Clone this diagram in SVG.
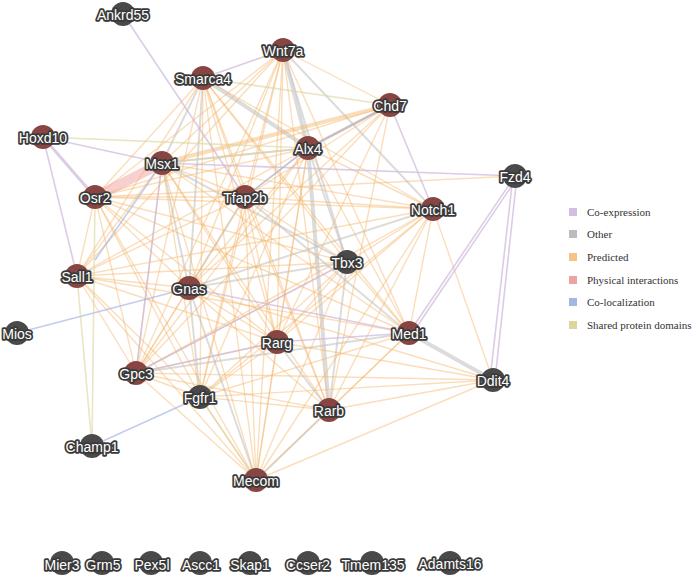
<svg xmlns="http://www.w3.org/2000/svg" width="697" height="582" viewBox="0 0 697 582">
<style>
.pr{stroke:#f5b56a;stroke-opacity:.45;stroke-width:1.4;fill:none}
.ot{stroke:#c4c4c4;stroke-opacity:.6;stroke-width:2;fill:none}
.otw{stroke:#c4c4c4;stroke-opacity:.6;stroke-width:4;fill:none}
.co{stroke:#cdb6dc;stroke-opacity:.7;stroke-width:1.6;fill:none}
.ph{stroke:#f0a8a8;stroke-opacity:.55;stroke-width:10;fill:none}
.cl{stroke:#a8b8e6;stroke-opacity:.7;stroke-width:1.6;fill:none}
.sd{stroke:#dcd39c;stroke-opacity:.6;stroke-width:1.6;fill:none}
.r{fill:url(#hr)}
.g{fill:url(#hg)}
.lb{font-family:"Liberation Sans",Arial,sans-serif;font-size:14px;fill:#fff;stroke:#3a3a3a;stroke-width:3.6;paint-order:stroke;stroke-linejoin:round;text-anchor:middle;dominant-baseline:central}
.lg{font-family:"Liberation Serif","Times New Roman",serif;font-size:11px;fill:#333;dominant-baseline:central}
</style>
<defs>
<pattern id="hr" width="3" height="3" patternUnits="userSpaceOnUse" patternTransform="rotate(45)">
<rect width="3" height="3" fill="#8b4744"/><line x1="0" y1="0" x2="0" y2="3" stroke="#7a3c3a" stroke-width="1"/>
</pattern>
<pattern id="hg" width="3" height="3" patternUnits="userSpaceOnUse" patternTransform="rotate(45)">
<rect width="3" height="3" fill="#4c4c4c"/><line x1="0" y1="0" x2="0" y2="3" stroke="#3d3d3d" stroke-width="1"/>
</pattern>
</defs>
<rect width="697" height="582" fill="#fff"/>
<g id="connectors">
<line class="ph" x1="95" y1="197" x2="162" y2="163"/>
<line class="otw" x1="283" y1="50" x2="308" y2="148"/>
<line class="otw" x1="203" y1="78" x2="308" y2="148"/>
<line class="ot" x1="283" y1="50" x2="347" y2="262"/>
<line class="ot" x1="283" y1="50" x2="433" y2="209"/>
<line class="ot" x1="203" y1="78" x2="162" y2="163"/>
<line class="ot" x1="203" y1="78" x2="189" y2="288"/>
<line class="ot" x1="308" y1="148" x2="347" y2="262"/>
<line class="otw" x1="308" y1="148" x2="329" y2="410"/>
<line class="ot" x1="162" y1="163" x2="308" y2="148"/>
<line class="ot" x1="162" y1="163" x2="347" y2="262"/>
<line class="ot" x1="245" y1="197" x2="409" y2="333"/>
<line class="ot" x1="245" y1="197" x2="189" y2="288"/>
<line class="ot" x1="189" y1="288" x2="433" y2="209"/>
<line class="ot" x1="189" y1="288" x2="347" y2="262"/>
<line class="ot" x1="189" y1="288" x2="200" y2="397"/>
<line class="ot" x1="189" y1="288" x2="256" y2="480"/>
<line class="ot" x1="277" y1="342" x2="329" y2="410"/>
<line class="ot" x1="347" y1="262" x2="329" y2="410"/>
<line class="otw" x1="409" y1="333" x2="493" y2="380"/>
<line class="ot" x1="329" y1="410" x2="256" y2="480"/>
<line class="ot" x1="390" y1="105" x2="308" y2="148"/>
<line class="ot" x1="162" y1="163" x2="189" y2="288"/>
<line class="ot" x1="136" y1="373" x2="409" y2="333"/>
<line class="pr" x1="283" y1="50" x2="162" y2="163"/>
<line class="pr" x1="283" y1="50" x2="245" y2="197"/>
<line class="pr" x1="283" y1="50" x2="189" y2="288"/>
<line class="pr" x1="283" y1="50" x2="136" y2="373"/>
<line class="pr" x1="283" y1="50" x2="277" y2="342"/>
<line class="pr" x1="283" y1="50" x2="329" y2="410"/>
<line class="pr" x1="283" y1="50" x2="256" y2="480"/>
<line class="pr" x1="283" y1="50" x2="409" y2="333"/>
<line class="pr" x1="283" y1="50" x2="95" y2="197"/>
<line class="pr" x1="283" y1="50" x2="77" y2="276"/>
<line class="pr" x1="283" y1="50" x2="200" y2="397"/>
<line class="pr" x1="283" y1="50" x2="390" y2="105"/>
<line class="pr" x1="203" y1="78" x2="245" y2="197"/>
<line class="pr" x1="203" y1="78" x2="136" y2="373"/>
<line class="pr" x1="203" y1="78" x2="277" y2="342"/>
<line class="pr" x1="203" y1="78" x2="329" y2="410"/>
<line class="pr" x1="203" y1="78" x2="256" y2="480"/>
<line class="pr" x1="203" y1="78" x2="409" y2="333"/>
<line class="pr" x1="203" y1="78" x2="433" y2="209"/>
<line class="pr" x1="203" y1="78" x2="347" y2="262"/>
<line class="pr" x1="203" y1="78" x2="200" y2="397"/>
<line class="pr" x1="203" y1="78" x2="77" y2="276"/>
<line class="pr" x1="203" y1="78" x2="95" y2="197"/>
<line class="pr" x1="162" y1="163" x2="390" y2="105" style="stroke-width:4"/>
<line class="pr" x1="162" y1="163" x2="433" y2="209"/>
<line class="pr" x1="162" y1="163" x2="245" y2="197"/>
<line class="pr" x1="162" y1="163" x2="77" y2="276"/>
<line class="pr" x1="162" y1="163" x2="136" y2="373"/>
<line class="pr" x1="162" y1="163" x2="277" y2="342"/>
<line class="pr" x1="162" y1="163" x2="329" y2="410"/>
<line class="pr" x1="162" y1="163" x2="256" y2="480"/>
<line class="pr" x1="162" y1="163" x2="409" y2="333"/>
<line class="pr" x1="162" y1="163" x2="200" y2="397"/>
<line class="pr" x1="308" y1="148" x2="390" y2="105" style="stroke-width:3"/>
<line class="pr" x1="308" y1="148" x2="245" y2="197"/>
<line class="pr" x1="308" y1="148" x2="189" y2="288"/>
<line class="pr" x1="308" y1="148" x2="95" y2="197"/>
<line class="pr" x1="308" y1="148" x2="77" y2="276"/>
<line class="pr" x1="308" y1="148" x2="136" y2="373"/>
<line class="pr" x1="308" y1="148" x2="277" y2="342"/>
<line class="pr" x1="308" y1="148" x2="256" y2="480"/>
<line class="pr" x1="308" y1="148" x2="409" y2="333"/>
<line class="pr" x1="308" y1="148" x2="433" y2="209"/>
<line class="pr" x1="308" y1="148" x2="200" y2="397"/>
<line class="pr" x1="390" y1="105" x2="245" y2="197"/>
<line class="pr" x1="390" y1="105" x2="95" y2="197"/>
<line class="pr" x1="390" y1="105" x2="189" y2="288"/>
<line class="pr" x1="390" y1="105" x2="277" y2="342"/>
<line class="pr" x1="390" y1="105" x2="136" y2="373"/>
<line class="pr" x1="390" y1="105" x2="329" y2="410"/>
<line class="pr" x1="95" y1="197" x2="77" y2="276"/>
<line class="pr" x1="95" y1="197" x2="189" y2="288"/>
<line class="pr" x1="95" y1="197" x2="136" y2="373"/>
<line class="pr" x1="95" y1="197" x2="245" y2="197"/>
<line class="pr" x1="95" y1="197" x2="277" y2="342"/>
<line class="pr" x1="95" y1="197" x2="409" y2="333"/>
<line class="pr" x1="95" y1="197" x2="433" y2="209"/>
<line class="pr" x1="95" y1="197" x2="347" y2="262"/>
<line class="pr" x1="95" y1="197" x2="200" y2="397"/>
<line class="pr" x1="95" y1="197" x2="256" y2="480"/>
<line class="pr" x1="95" y1="197" x2="515" y2="176"/>
<line class="pr" x1="245" y1="197" x2="136" y2="373"/>
<line class="pr" x1="245" y1="197" x2="77" y2="276"/>
<line class="pr" x1="245" y1="197" x2="277" y2="342"/>
<line class="pr" x1="245" y1="197" x2="329" y2="410"/>
<line class="pr" x1="245" y1="197" x2="433" y2="209"/>
<line class="pr" x1="245" y1="197" x2="347" y2="262"/>
<line class="pr" x1="245" y1="197" x2="256" y2="480"/>
<line class="pr" x1="245" y1="197" x2="200" y2="397"/>
<line class="pr" x1="433" y1="209" x2="347" y2="262"/>
<line class="pr" x1="433" y1="209" x2="277" y2="342"/>
<line class="pr" x1="433" y1="209" x2="409" y2="333"/>
<line class="pr" x1="433" y1="209" x2="493" y2="380"/>
<line class="pr" x1="433" y1="209" x2="136" y2="373"/>
<line class="pr" x1="433" y1="209" x2="77" y2="276"/>
<line class="pr" x1="433" y1="209" x2="200" y2="397"/>
<line class="pr" x1="433" y1="209" x2="329" y2="410"/>
<line class="pr" x1="433" y1="209" x2="256" y2="480"/>
<line class="pr" x1="347" y1="262" x2="277" y2="342"/>
<line class="pr" x1="347" y1="262" x2="409" y2="333"/>
<line class="pr" x1="347" y1="262" x2="256" y2="480"/>
<line class="pr" x1="347" y1="262" x2="136" y2="373"/>
<line class="pr" x1="347" y1="262" x2="200" y2="397"/>
<line class="pr" x1="347" y1="262" x2="77" y2="276"/>
<line class="pr" x1="77" y1="276" x2="189" y2="288"/>
<line class="pr" x1="77" y1="276" x2="136" y2="373"/>
<line class="pr" x1="77" y1="276" x2="277" y2="342"/>
<line class="pr" x1="77" y1="276" x2="409" y2="333"/>
<line class="pr" x1="77" y1="276" x2="200" y2="397"/>
<line class="pr" x1="77" y1="276" x2="256" y2="480"/>
<line class="pr" x1="189" y1="288" x2="277" y2="342"/>
<line class="pr" x1="189" y1="288" x2="136" y2="373"/>
<line class="pr" x1="189" y1="288" x2="329" y2="410"/>
<line class="pr" x1="189" y1="288" x2="493" y2="380"/>
<line class="pr" x1="277" y1="342" x2="136" y2="373"/>
<line class="pr" x1="277" y1="342" x2="200" y2="397"/>
<line class="pr" x1="277" y1="342" x2="256" y2="480"/>
<line class="pr" x1="277" y1="342" x2="493" y2="380"/>
<line class="pr" x1="409" y1="333" x2="329" y2="410"/>
<line class="pr" x1="409" y1="333" x2="200" y2="397"/>
<line class="pr" x1="409" y1="333" x2="256" y2="480"/>
<line class="pr" x1="136" y1="373" x2="200" y2="397"/>
<line class="pr" x1="136" y1="373" x2="329" y2="410"/>
<line class="pr" x1="136" y1="373" x2="256" y2="480"/>
<line class="pr" x1="136" y1="373" x2="493" y2="380"/>
<line class="pr" x1="200" y1="397" x2="256" y2="480"/>
<line class="pr" x1="200" y1="397" x2="329" y2="410"/>
<line class="pr" x1="200" y1="397" x2="493" y2="380"/>
<line class="pr" x1="256" y1="480" x2="493" y2="380"/>
<line class="pr" x1="329" y1="410" x2="493" y2="380"/>
<line class="co" x1="123" y1="14" x2="245" y2="197"/>
<line class="co" x1="283" y1="50" x2="203" y2="78"/>
<line class="co" x1="43" y1="137" x2="95" y2="197" style="stroke-width:3"/>
<line class="co" x1="43" y1="137" x2="77" y2="276"/>
<line class="co" x1="43" y1="137" x2="162" y2="163"/>
<line class="co" x1="162" y1="163" x2="515" y2="176"/>
<line class="co" x1="390" y1="105" x2="433" y2="209"/>
<line class="co" x1="515" y1="176" x2="409" y2="333"/>
<line class="co" x1="517" y1="178" x2="412" y2="334"/>
<line class="co" x1="513" y1="176" x2="490" y2="380"/>
<line class="co" x1="517" y1="176" x2="495" y2="380"/>
<line class="co" x1="189" y1="288" x2="409" y2="333"/>
<line class="co" x1="277" y1="342" x2="409" y2="333"/>
<line class="co" x1="277" y1="342" x2="136" y2="373"/>
<line class="co" x1="162" y1="163" x2="136" y2="373"/>
<line class="co" x1="347" y1="262" x2="136" y2="373"/>
<line class="cl" x1="189" y1="288" x2="17" y2="333"/>
<line class="cl" x1="200" y1="397" x2="92" y2="446"/>
<line class="cl" x1="308" y1="148" x2="245" y2="197"/>
<line class="cl" x1="390" y1="105" x2="308" y2="148"/>
<line class="cl" x1="162" y1="163" x2="95" y2="260"/>
<line class="sd" x1="203" y1="78" x2="390" y2="105"/>
<line class="sd" x1="43" y1="137" x2="308" y2="148"/>
<line class="sd" x1="162" y1="163" x2="308" y2="148"/>
<line class="sd" x1="92" y1="446" x2="77" y2="276"/>
<line class="sd" x1="92" y1="446" x2="95" y2="197"/>
<line class="sd" x1="200" y1="397" x2="256" y2="480"/>
</g>
<g id="n-Ankrd55"><circle class="g" cx="123" cy="14" r="12"/><text class="lb" x="123" y="15">Ankrd55</text></g>
<g id="n-Wnt7a"><circle class="r" cx="283" cy="50" r="12"/><text class="lb" x="283" y="51">Wnt7a</text></g>
<g id="n-Smarca4"><circle class="r" cx="203" cy="78" r="12"/><text class="lb" x="203" y="79">Smarca4</text></g>
<g id="n-Hoxd10"><circle class="r" cx="43" cy="137" r="12"/><text class="lb" x="43" y="138">Hoxd10</text></g>
<g id="n-Msx1"><circle class="r" cx="162" cy="163" r="12"/><text class="lb" x="162" y="164">Msx1</text></g>
<g id="n-Alx4"><circle class="r" cx="308" cy="148" r="12"/><text class="lb" x="308" y="149">Alx4</text></g>
<g id="n-Chd7"><circle class="r" cx="390" cy="105" r="12"/><text class="lb" x="390" y="106">Chd7</text></g>
<g id="n-Fzd4"><circle class="g" cx="515" cy="176" r="12"/><text class="lb" x="515" y="177">Fzd4</text></g>
<g id="n-Osr2"><circle class="r" cx="95" cy="197" r="12"/><text class="lb" x="95" y="198">Osr2</text></g>
<g id="n-Tfap2b"><circle class="r" cx="245" cy="197" r="12"/><text class="lb" x="245" y="198">Tfap2b</text></g>
<g id="n-Notch1"><circle class="r" cx="433" cy="209" r="12"/><text class="lb" x="433" y="210">Notch1</text></g>
<g id="n-Tbx3"><circle class="g" cx="347" cy="262" r="12"/><text class="lb" x="347" y="263">Tbx3</text></g>
<g id="n-Sall1"><circle class="r" cx="77" cy="276" r="12"/><text class="lb" x="77" y="277">Sall1</text></g>
<g id="n-Gnas"><circle class="r" cx="189" cy="288" r="12"/><text class="lb" x="189" y="289">Gnas</text></g>
<g id="n-Mios"><circle class="g" cx="17" cy="333" r="12"/><text class="lb" x="17" y="334">Mios</text></g>
<g id="n-Rarg"><circle class="r" cx="277" cy="342" r="12"/><text class="lb" x="277" y="343">Rarg</text></g>
<g id="n-Med1"><circle class="r" cx="409" cy="333" r="12"/><text class="lb" x="409" y="334">Med1</text></g>
<g id="n-Gpc3"><circle class="r" cx="136" cy="373" r="12"/><text class="lb" x="136" y="374">Gpc3</text></g>
<g id="n-Ddit4"><circle class="g" cx="493" cy="380" r="12"/><text class="lb" x="493" y="381">Ddit4</text></g>
<g id="n-Fgfr1"><circle class="g" cx="200" cy="397" r="12"/><text class="lb" x="200" y="398">Fgfr1</text></g>
<g id="n-Rarb"><circle class="r" cx="329" cy="410" r="12"/><text class="lb" x="329" y="411">Rarb</text></g>
<g id="n-Champ1"><circle class="g" cx="92" cy="446" r="12"/><text class="lb" x="92" y="447">Champ1</text></g>
<g id="n-Mecom"><circle class="r" cx="256" cy="480" r="12"/><text class="lb" x="256" y="481">Mecom</text></g>
<g id="n-Mier3"><circle class="g" cx="62" cy="563" r="12"/><text class="lb" x="62" y="565">Mier3</text></g>
<g id="n-Grm5"><circle class="g" cx="102" cy="563" r="12"/><text class="lb" x="103" y="565">Grm5</text></g>
<g id="n-Pex5l"><circle class="g" cx="151" cy="563" r="12"/><text class="lb" x="152" y="565">Pex5l</text></g>
<g id="n-Ascc1"><circle class="g" cx="200" cy="563" r="12"/><text class="lb" x="201" y="565">Ascc1</text></g>
<g id="n-Skap1"><circle class="g" cx="250" cy="563" r="12"/><text class="lb" x="250" y="565">Skap1</text></g>
<g id="n-Ccser2"><circle class="g" cx="308" cy="563" r="12"/><text class="lb" x="308" y="565">Ccser2</text></g>
<g id="n-Tmem135"><circle class="g" cx="372" cy="563" r="12"/><text class="lb" x="373" y="565">Tmem135</text></g>
<g id="n-Adamts16"><circle class="g" cx="450" cy="563" r="12"/><text class="lb" x="450" y="564">Adamts16</text></g>
<g id="legend">
<rect x="569" y="208" width="8" height="8" fill="#d3bde2"/><text class="lg" x="587" y="212">Co-expression</text>
<rect x="569" y="230" width="8" height="8" fill="#bcbcbc"/><text class="lg" x="587" y="234">Other</text>
<rect x="569" y="253" width="8" height="8" fill="#f6c286"/><text class="lg" x="587" y="257">Predicted</text>
<rect x="569" y="276" width="8" height="8" fill="#eba4a4"/><text class="lg" x="587" y="280">Physical interactions</text>
<rect x="569" y="298" width="8" height="8" fill="#a5b6e0"/><text class="lg" x="587" y="302">Co-localization</text>
<rect x="569" y="321" width="8" height="8" fill="#dcd59e"/><text class="lg" x="587" y="325">Shared protein domains</text>
</g>
</svg>
